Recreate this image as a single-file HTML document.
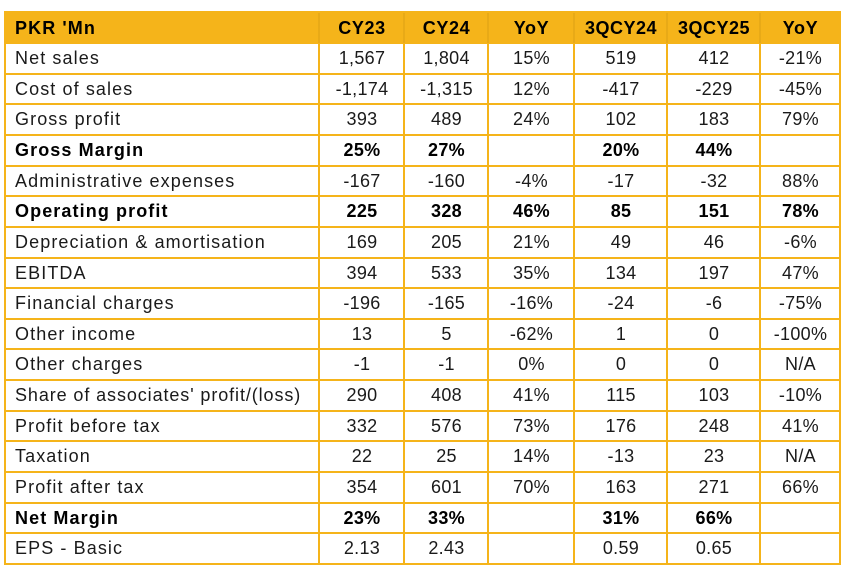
<!DOCTYPE html>
<html><head><meta charset="utf-8"><style>
html,body{margin:0;padding:0;background:#fff;}
body{width:850px;height:577px;position:relative;overflow:hidden;font-family:"Liberation Sans",Arial,sans-serif;color:#1a1a1a;}
.hdr{position:absolute;left:4px;top:11px;width:836px;height:32px;background:#F5B41A;}
.h{position:absolute;left:4px;width:837px;height:2px;background:#F5B41A;}
.v{position:absolute;width:2px;background:#F5B41A;}
.vh{position:absolute;width:2px;background:#E8AA17;top:13px;height:30px;}
.row{position:absolute;left:0;width:850px;height:30.65px;font-size:18px;letter-spacing:0.3px;}
.row span{position:absolute;top:0;height:30.65px;line-height:31px;text-align:center;white-space:nowrap;}
.row span.l{text-align:left;left:15px;width:300px;letter-spacing:1.1px;}
.b{font-weight:bold;color:#000;}
.c1{left:320px;width:84px}.c2{left:405px;width:83px}.c3{left:489px;width:85px}
.c4{left:575px;width:92px}.c5{left:668px;width:92px}.c6{left:761px;width:79px}
</style></head><body>
<div class="hdr"></div>

<div class="row b" style="top:12.5px;letter-spacing:0.6px"><span class="l">PKR 'Mn</span><span class="c1">CY23</span><span class="c2">CY24</span><span class="c3">YoY</span><span class="c4" style="letter-spacing:0.5px">3QCY24</span><span class="c5" style="letter-spacing:0.5px">3QCY25</span><span class="c6">YoY</span></div>
<div class="row" style="top:43px"><span class="l">Net sales</span><span class="c1">1,567</span><span class="c2">1,804</span><span class="c3">15%</span><span class="c4">519</span><span class="c5">412</span><span class="c6">-21%</span></div>
<div class="row" style="top:73.65px"><span class="l">Cost of sales</span><span class="c1">-1,174</span><span class="c2">-1,315</span><span class="c3">12%</span><span class="c4">-417</span><span class="c5">-229</span><span class="c6">-45%</span></div>
<div class="row" style="top:104.29px"><span class="l">Gross profit</span><span class="c1">393</span><span class="c2">489</span><span class="c3">24%</span><span class="c4">102</span><span class="c5">183</span><span class="c6">79%</span></div>
<div class="row b" style="top:134.94px"><span class="l">Gross Margin</span><span class="c1">25%</span><span class="c2">27%</span><span class="c3"></span><span class="c4">20%</span><span class="c5">44%</span><span class="c6"></span></div>
<div class="row" style="top:165.59px"><span class="l">Administrative expenses</span><span class="c1">-167</span><span class="c2">-160</span><span class="c3">-4%</span><span class="c4">-17</span><span class="c5">-32</span><span class="c6">88%</span></div>
<div class="row b" style="top:196.24px"><span class="l">Operating profit</span><span class="c1">225</span><span class="c2">328</span><span class="c3">46%</span><span class="c4">85</span><span class="c5">151</span><span class="c6">78%</span></div>
<div class="row" style="top:226.88px"><span class="l">Depreciation &amp; amortisation</span><span class="c1">169</span><span class="c2">205</span><span class="c3">21%</span><span class="c4">49</span><span class="c5">46</span><span class="c6">-6%</span></div>
<div class="row" style="top:257.53px"><span class="l">EBITDA</span><span class="c1">394</span><span class="c2">533</span><span class="c3">35%</span><span class="c4">134</span><span class="c5">197</span><span class="c6">47%</span></div>
<div class="row" style="top:288.18px"><span class="l">Financial charges</span><span class="c1">-196</span><span class="c2">-165</span><span class="c3">-16%</span><span class="c4">-24</span><span class="c5">-6</span><span class="c6">-75%</span></div>
<div class="row" style="top:318.82px"><span class="l">Other income</span><span class="c1">13</span><span class="c2">5</span><span class="c3">-62%</span><span class="c4">1</span><span class="c5">0</span><span class="c6">-100%</span></div>
<div class="row" style="top:349.47px"><span class="l">Other charges</span><span class="c1">-1</span><span class="c2">-1</span><span class="c3">0%</span><span class="c4">0</span><span class="c5">0</span><span class="c6">N/A</span></div>
<div class="row" style="top:380.12px"><span class="l" style="letter-spacing:0.9px">Share of associates' profit/(loss)</span><span class="c1">290</span><span class="c2">408</span><span class="c3">41%</span><span class="c4">115</span><span class="c5">103</span><span class="c6">-10%</span></div>
<div class="row" style="top:410.76px"><span class="l">Profit before tax</span><span class="c1">332</span><span class="c2">576</span><span class="c3">73%</span><span class="c4">176</span><span class="c5">248</span><span class="c6">41%</span></div>
<div class="row" style="top:441.41px"><span class="l">Taxation</span><span class="c1">22</span><span class="c2">25</span><span class="c3">14%</span><span class="c4">-13</span><span class="c5">23</span><span class="c6">N/A</span></div>
<div class="row" style="top:472.06px"><span class="l">Profit after tax</span><span class="c1">354</span><span class="c2">601</span><span class="c3">70%</span><span class="c4">163</span><span class="c5">271</span><span class="c6">66%</span></div>
<div class="row b" style="top:502.71px"><span class="l">Net Margin</span><span class="c1">23%</span><span class="c2">33%</span><span class="c3"></span><span class="c4">31%</span><span class="c5">66%</span><span class="c6"></span></div>
<div class="row" style="top:533.35px"><span class="l">EPS - Basic</span><span class="c1">2.13</span><span class="c2">2.43</span><span class="c3"></span><span class="c4">0.59</span><span class="c5">0.65</span><span class="c6"></span></div>

<!-- horizontal lines -->
<div class="h" style="top:11px"></div>
<div class="h" style="top:42px"></div>
<div class="h" style="top:72.65px"></div>
<div class="h" style="top:103.29px"></div>
<div class="h" style="top:133.94px"></div>
<div class="h" style="top:164.59px"></div>
<div class="h" style="top:195.24px"></div>
<div class="h" style="top:225.88px"></div>
<div class="h" style="top:256.53px"></div>
<div class="h" style="top:287.18px"></div>
<div class="h" style="top:317.82px"></div>
<div class="h" style="top:348.47px"></div>
<div class="h" style="top:379.12px"></div>
<div class="h" style="top:409.76px"></div>
<div class="h" style="top:440.41px"></div>
<div class="h" style="top:471.06px"></div>
<div class="h" style="top:501.71px"></div>
<div class="h" style="top:532.35px"></div>
<div class="h" style="top:563px"></div>

<!-- vertical lines -->
<div class="v" style="left:4px;top:11px;height:554px"></div>
<div class="v" style="left:839px;top:11px;height:554px"></div>
<div class="v" style="left:318px;top:43px;height:521px"></div>
<div class="v" style="left:403px;top:43px;height:521px"></div>
<div class="v" style="left:487px;top:43px;height:521px"></div>
<div class="v" style="left:573px;top:43px;height:521px"></div>
<div class="v" style="left:666px;top:43px;height:521px"></div>
<div class="v" style="left:759px;top:43px;height:521px"></div>
<div class="vh" style="left:318px"></div>
<div class="vh" style="left:403px"></div>
<div class="vh" style="left:487px"></div>
<div class="vh" style="left:573px"></div>
<div class="vh" style="left:666px"></div>
<div class="vh" style="left:759px"></div>
</body></html>
